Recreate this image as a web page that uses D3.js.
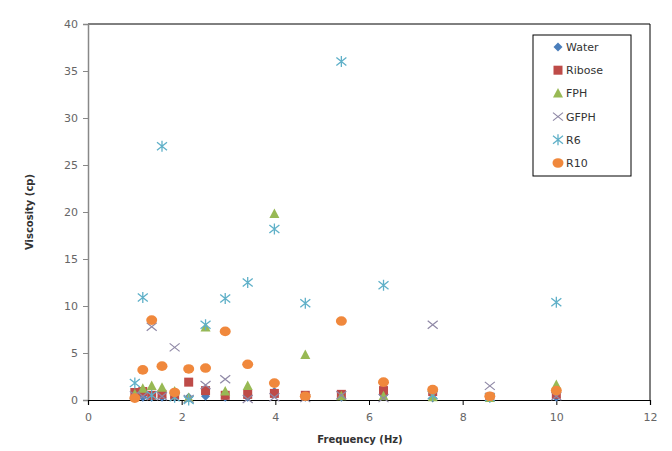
<!DOCTYPE html>
<html><head><meta charset="utf-8">
<script src="https://cdn.jsdelivr.net/npm/d3@7"></script>
<style>body{margin:0;background:#fff}svg{display:block}</style>
</head><body><svg id="c" width="672" height="451"></svg>
<script>
const freq = [1.0, 1.17, 1.36, 1.58, 1.85, 2.15, 2.51, 2.93, 3.41, 3.98, 4.64, 5.41, 6.31, 7.36, 8.58, 10.0];
const water  = [0.3, 0.3, 0.3, 0.3, 0.3, 0.3, 0.4, 0.3, 0.3, 0.9, 0.3, 0.3, 0.5, 0.2, 0.2, 0.3];
const ribose = [0.8, 0.9, 0.5, 0.6, 0.5, 1.9, 1.0, 0.5, 0.6, 0.7, 0.5, 0.6, 1.0, 0.9, 0.3, 0.6];
const fph    = [0.6, 1.2, 1.5, 1.3, 0.9, 0.2, 7.7, 0.9, 1.5, 19.8, 4.8, 0.4, 0.4, 0.3, 0.2, 1.6];
const gfph   = [0.5, 0.4, 7.8, 0.4, 5.6, 0.1, 1.6, 2.2, 0.1, 0.3, 0.2, 0.5, 0.2, 8.0, 1.5, 0.4];
const r6     = [1.8, 10.9, 0.5, 27.0, 0.3, 0.0, 8.0, 10.8, 12.5, 18.2, 10.3, 36.0, 12.2, 0.5, 0.3, 10.4];
const r10    = [0.2, 3.2, 8.5, 3.6, 0.8, 3.3, 3.4, 7.3, 3.8, 1.8, 0.4, 8.4, 1.9, 1.1, 0.4, 1.0];
const seriesNames = ["Water", "Ribose", "FPH", "GFPH", "R6", "R10"];
const xTicks = [0, 2, 4, 6, 8, 10, 12];
const yTicks = [0, 5, 10, 15, 20, 25, 30, 35, 40];

const colors = ["#4a7ebb", "#be4b48", "#98b954", "#8f88a6", "#5fb0c8", "#f0883c"];
const shapes = ["diamond", "square", "triangle", "x", "star", "circle"];
const values = [water, ribose, fph, gfph, r6, r10];

const svg = d3.select("#c");
const L = 88, R = 650, T = 24, B = 400;
const x = d3.scaleLinear().domain([0, 12]).range([L, R]);
const y = d3.scaleLinear().domain([0, 40]).range([B, T]);
const font = "DejaVu Sans, Verdana, sans-serif";

// plot border (top/right)
svg.append("line").attr("x1", L).attr("x2", R).attr("y1", T).attr("y2", T).attr("stroke", "#000").attr("stroke-width", 1);
svg.append("line").attr("x1", R).attr("x2", R).attr("y1", T).attr("y2", B).attr("stroke", "#000").attr("stroke-width", 1);

// y axis
const ya = svg.append("g").attr("transform", `translate(${L},0)`)
  .call(d3.axisLeft(y).tickValues(yTicks).tickSize(5).tickPadding(5));
ya.select(".domain").attr("stroke", "#888").attr("stroke-width", 1.5);
ya.selectAll(".tick line").attr("stroke", "#888");
ya.selectAll("text").attr("font-family", font).attr("font-size", 11).attr("fill", "#666");

// x axis
const xa = svg.append("g").attr("transform", `translate(0,${B})`)
  .call(d3.axisBottom(x).tickValues(xTicks).tickSize(5).tickPadding(8));
xa.select(".domain").attr("stroke", "#000").attr("stroke-width", 1.2);
xa.selectAll(".tick line").attr("stroke", "#000");
xa.selectAll("text").attr("font-family", font).attr("font-size", 11).attr("fill", "#666");

// titles
svg.append("text").attr("x", 360).attr("y", 443).attr("text-anchor", "middle")
  .attr("font-family", font).attr("font-size", 10).attr("font-weight", "bold").attr("fill", "#333").text("Frequency (Hz)");
svg.append("text").attr("transform", "translate(33,212) rotate(-90)").attr("text-anchor", "middle")
  .attr("font-family", font).attr("font-size", 10).attr("font-weight", "bold").attr("fill", "#333").text("Viscosity (cp)");

function drawMarker(g, shape, color) {
  if (shape === "diamond") g.append("path").attr("d", "M0,-4.5L4.5,0L0,4.5L-4.5,0Z").attr("fill", color);
  else if (shape === "square") g.append("rect").attr("x", -4.5).attr("y", -4.5).attr("width", 9).attr("height", 9).attr("fill", color);
  else if (shape === "triangle") g.append("path").attr("d", "M0,-5.5L5,4L-5,4Z").attr("fill", color);
  else if (shape === "x") g.append("path").attr("d", "M-5,-4L5,4M-5,4L5,-4").attr("stroke", color).attr("stroke-width", 1.2).attr("fill", "none");
  else if (shape === "star") g.append("path").attr("d", "M-5,-4L5,4M-5,4L5,-4M0,-5.5L0,5.5").attr("stroke", color).attr("stroke-width", 1.3).attr("fill", "none");
  else g.append("ellipse").attr("rx", 5.5).attr("ry", 4.8).attr("fill", color);
}

values.forEach((vals, si) => {
  const g = svg.append("g");
  vals.forEach((v, i) => {
    const m = g.append("g").attr("transform", `translate(${x(freq[i])},${y(v)})`);
    drawMarker(m, shapes[si], colors[si]);
  });
});

// legend
const lg = svg.append("g");
lg.append("rect").attr("x", 533).attr("y", 35).attr("width", 98).attr("height", 141)
  .attr("fill", "#fff").attr("stroke", "#000").attr("stroke-width", 1);
seriesNames.forEach((n, i) => {
  const yy = 47 + i * 23.2;
  const m = lg.append("g").attr("transform", `translate(558,${yy})`);
  drawMarker(m, shapes[i], colors[i]);
  lg.append("text").attr("x", 566).attr("y", yy + 4).attr("font-family", font).attr("font-size", 11)
    .attr("fill", "#333").text(n);
});
</script></body></html>
